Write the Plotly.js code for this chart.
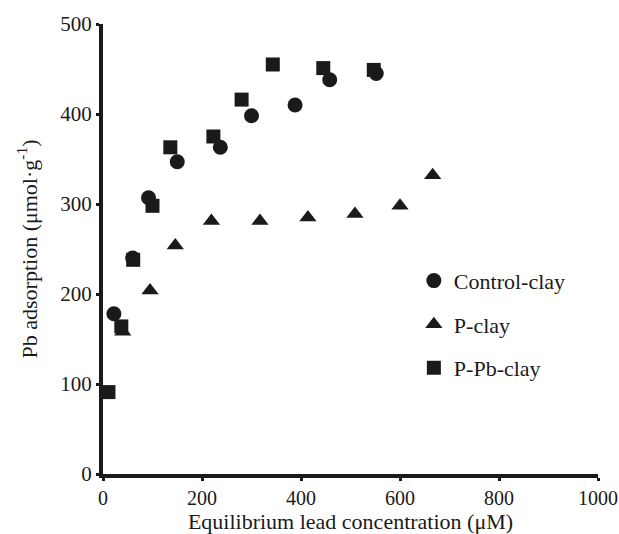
<!DOCTYPE html>
<html>
<head>
<meta charset="utf-8">
<script src="https://cdn.plot.ly/plotly-3.0.1.min.js"></script>
<style>html,body{margin:0;padding:0;background:#fff;}#chart{width:619px;height:534px;}</style>
</head>
<body>
<div id="chart"></div>
<script>
const seriesNames = ["Control-clay", "P-clay", "P-Pb-clay"];
const controlX = [22, 60, 92, 150, 237, 300, 388, 458, 552];
const controlY = [178, 240, 307, 347, 363, 398, 410, 438, 445];
const pClayX = [40, 95, 146, 219, 317, 414, 509, 600, 666];
const pClayY = [158, 204, 254, 281, 281, 285, 289, 298, 332];
const pPbX = [11, 37, 61, 100, 136, 223, 280, 343, 445, 547];
const pPbY = [91, 164, 238, 298, 363, 375, 416, 455, 451, 449];
const xTicks = [0, 200, 400, 600, 800, 1000];
const yTicks = [0, 100, 200, 300, 400, 500];

const ink = "#1a1a1a";
const serif = "Liberation Serif, Times New Roman, serif";

const traces = [
  {x: controlX, y: controlY, name: seriesNames[0], symbol: "circle", size: 15, group: "a"},
  {x: pClayX, y: pClayY, name: seriesNames[1], symbol: "triangle-up", size: 15, group: "b"},
  {x: pPbX, y: pPbY, name: seriesNames[2], symbol: "square", size: 14, group: "c"}
].map(t => ({
  type: "scatter", mode: "markers", x: t.x, y: t.y, name: t.name,
  legendgroup: t.group,
  marker: {symbol: t.symbol, size: t.size, color: ink, line: {width: 0}}
}));

const layout = {
  width: 619, height: 534,
  margin: {l: 103, r: 21, t: 24, b: 60},
  paper_bgcolor: "#fff", plot_bgcolor: "#fff",
  font: {family: serif, size: 22, color: ink},
  showlegend: true,
  legend: {x: 0.628, y: 0.476, xanchor: "left", yanchor: "top", bgcolor: "rgba(0,0,0,0)",
           font: {family: serif, size: 22, color: ink}, tracegroupgap: 12, traceorder: "grouped"},
  xaxis: {
    range: [0, 1000], tickvals: xTicks, ticktext: xTicks.map(String),
    showgrid: false, zeroline: false, showline: true, linecolor: ink, linewidth: 4,
    ticks: "outside", ticklen: 3, tickwidth: 3, tickcolor: ink,
    ticklabeloverflow: "allow",
    tickfont: {family: serif, size: 20, color: ink},
    title: {text: "Equilibrium lead concentration (μM)", font: {family: serif, size: 22, color: ink}, standoff: 5}
  },
  yaxis: {
    range: [0, 500], tickvals: yTicks, ticktext: yTicks.map(String),
    showgrid: false, zeroline: false, showline: true, linecolor: ink, linewidth: 4,
    ticks: "outside", ticklen: 3, tickwidth: 3, tickcolor: ink,
    ticklabeloverflow: "allow",
    tickfont: {family: serif, size: 21, color: ink},
    title: {text: "Pb adsorption (μmol·g<sup>-1</sup>)", font: {family: serif, size: 22, color: ink}, standoff: 18}
  }
};

Plotly.newPlot("chart", traces, layout, {displayModeBar: false, staticPlot: true});
</script>
</body>
</html>
